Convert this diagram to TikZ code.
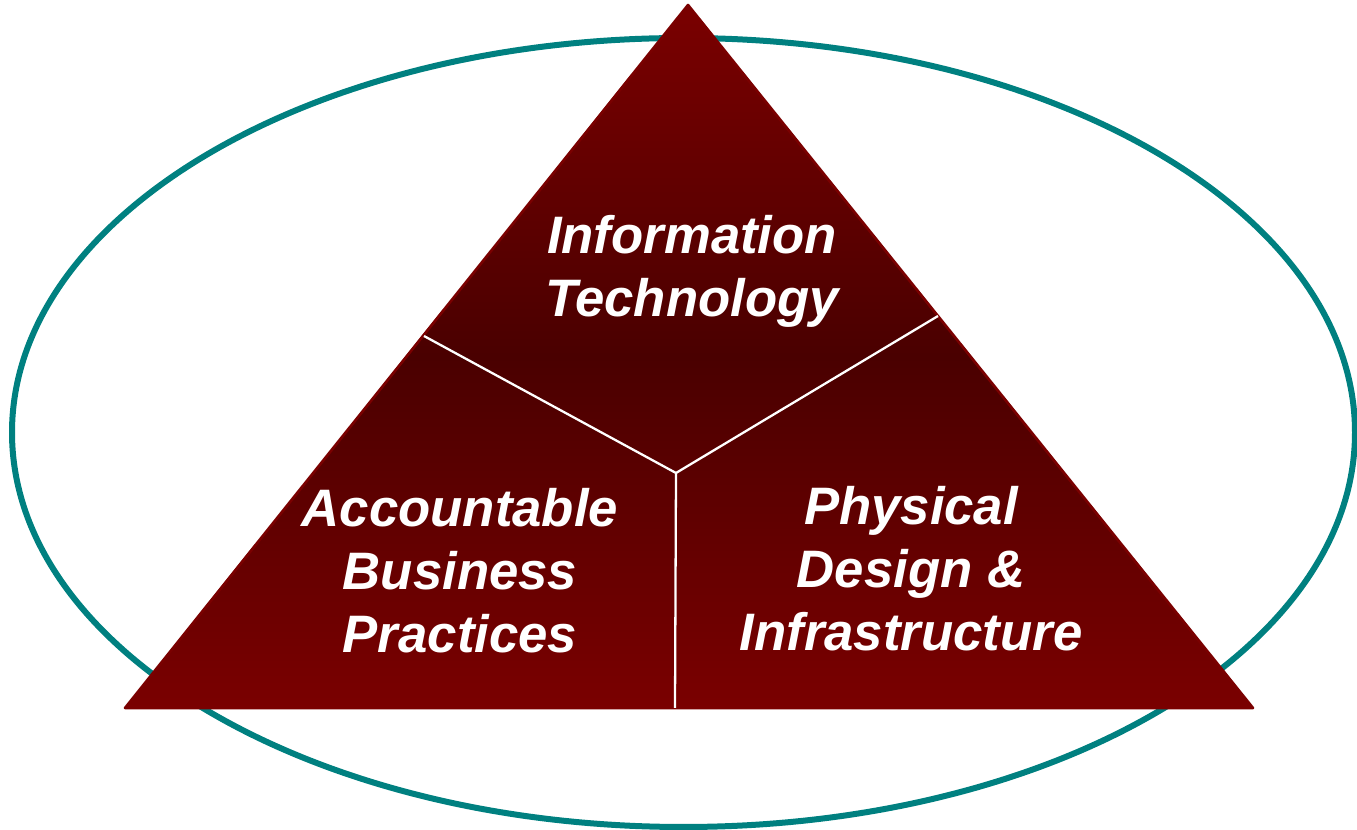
\documentclass[tikz,border=0pt]{standalone}
\usepackage{fontspec}
\setmainfont{Liberation Sans}
\usepackage{tikz}

\definecolor{tealring}{RGB}{0,128,128}
\definecolor{brickred}{RGB}{122,0,0}
\definecolor{darkbrick}{RGB}{74,0,0}

\tikzset{
	label/.style={text=white, align=center, font=\fontsize{30}{35.8}\selectfont\bfseries\itshape},
	divider/.style={draw=white, line width=1.3pt}
}

\begin{document}
\begin{tikzpicture}[x=0.02cm, y=-0.02cm]
	\useasboundingbox (0,0) rectangle (1357,830);
	
	% outer ring
	\draw[tealring, line width=0.12cm] (683.5,432.5) ellipse [x radius=671.5, y radius=394.5];
	
	% triangle corners
	\coordinate (top) at (688,5);
	\coordinate (left) at (125,708);
	\coordinate (right) at (1253,708);
	\coordinate (mid) at (676,473);
	\coordinate (l) at (424,336);
	\coordinate (r) at (938,316);
	\coordinate (b) at (675,708);
	
	% middle color has to come last
	\shade[top color=brickred, bottom color=brickred, middle color=darkbrick] (top) -- (left) -- (right) -- cycle;
	\draw[brickred, line width=1.5pt, line join=round] (top) -- (left) -- (right) -- cycle;
	
	\path[divider] (l) edge (mid);
	\path[divider] (r) edge (mid);
	\path[divider] (mid) edge (b);
	
	\node[label] (it) at (692,271) {Information\\Technology};
	\node[label] (abp) at (460,571) {Accountable\\Business\\Practices};
	\node[label] (pdi) at (911,569) {Physical\\Design \&\\Infrastructure};
\end{tikzpicture}
\end{document}
